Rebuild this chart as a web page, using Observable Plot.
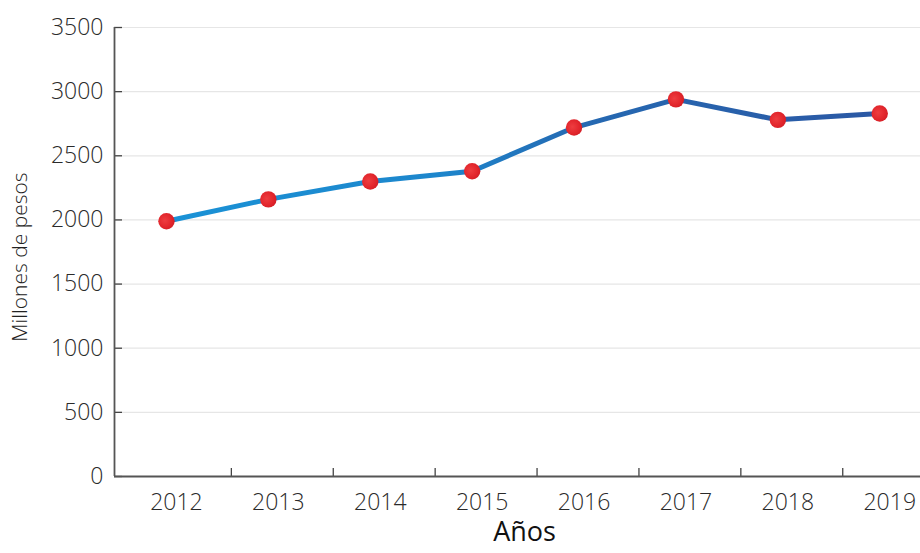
<!DOCTYPE html>
<html>
<head>
<meta charset="utf-8">
<script src="https://cdn.jsdelivr.net/npm/d3@7"></script>
<script src="https://cdn.jsdelivr.net/npm/@observablehq/plot@0.6"></script>
<style>
  html, body { margin: 0; padding: 0; background: #fff; }
  #chart svg { display: block; }
</style>
</head>
<body>
<div id="chart"></div>
<script>
const years = [2012, 2013, 2014, 2015, 2016, 2017, 2018, 2019];
const values = [1990, 2160, 2300, 2380, 2720, 2940, 2780, 2830];
const yTicks = [0, 500, 1000, 1500, 2000, 2500, 3000, 3500];
const xLabel = "Años";
const yLabel = "Millones de pesos";

const data = years.map((year, i) => ({year, value: values[i]}));
const xDomain = [2011.49, 2019.40];
const font = "'Open Sans', 'Noto Sans', sans-serif";

const plot = Plot.plot({
  width: 920,
  height: 553,
  marginTop: 27,
  marginBottom: 77,
  marginLeft: 114,
  marginRight: 0,
  style: {fontFamily: font, background: "#fff"},
  x: {domain: xDomain},
  y: {domain: [0, 3500]},
  marks: [
    Plot.ruleY(yTicks.slice(1), {stroke: "#e6e6e6", strokeWidth: 1.2}),
    Plot.axisY({ticks: yTicks, tickSize: 0, tickPadding: 11, fontSize: 23, fontWeight: 300, color: "#2a2a2a", tickFormat: d => String(d), label: null}),
    Plot.axisX({ticks: years, tickSize: 0, tickPadding: 17, dx: 10, fontSize: 23, fontWeight: 300, color: "#2a2a2a", tickFormat: d => String(d), label: null}),
    Plot.ruleY(yTicks, {x1: xDomain[0], x2: xDomain[0], insetRight: -8, stroke: "#444", strokeWidth: 1.3}),
    Plot.ruleX(years.slice(1), {y1: 0, y2: 0, insetTop: -8, dx: -37, stroke: "#444", strokeWidth: 1.3}),
    Plot.ruleY([0], {stroke: "#555", strokeWidth: 1.8}),
    Plot.ruleX([xDomain[0]], {stroke: "#555", strokeWidth: 1.8}),
    Plot.line(data, {x: "year", y: "value", stroke: "url(#lineGrad)", strokeWidth: 5, strokeLinejoin: "round"}),
    Plot.dot(data, {x: "year", y: "value", r: 8.2, fill: "url(#dotGrad)", stroke: "none"}),
    Plot.text([xLabel], {frameAnchor: "bottom", dx: 7, dy: 64, fontSize: 27, fill: "#111", fontWeight: 400}),
    Plot.text([yLabel], {frameAnchor: "left", textAnchor: "middle", dx: -94, dy: 5, rotate: -90, fontSize: 21, fill: "#222", fontWeight: 300})
  ]
});

const svg = d3.select(plot);
const defs = svg.insert("defs", ":first-child");
const lg = defs.append("linearGradient").attr("id", "lineGrad").attr("x1", "0").attr("x2", "1").attr("y1", "0").attr("y2", "0");
[["0%", "#1a92d6"], ["38%", "#1d86cc"], ["58%", "#2569b2"], ["100%", "#2b58a4"]].forEach(([o, c]) =>
  lg.append("stop").attr("offset", o).attr("stop-color", c));
const rg = defs.append("radialGradient").attr("id", "dotGrad").attr("cx", "0.4").attr("cy", "0.45").attr("r", "0.6");
[["0%", "#ee3d40"], ["70%", "#e2262c"], ["100%", "#d41f27"]].forEach(([o, c]) =>
  rg.append("stop").attr("offset", o).attr("stop-color", c));

document.getElementById("chart").appendChild(plot);
</script>
</body>
</html>
